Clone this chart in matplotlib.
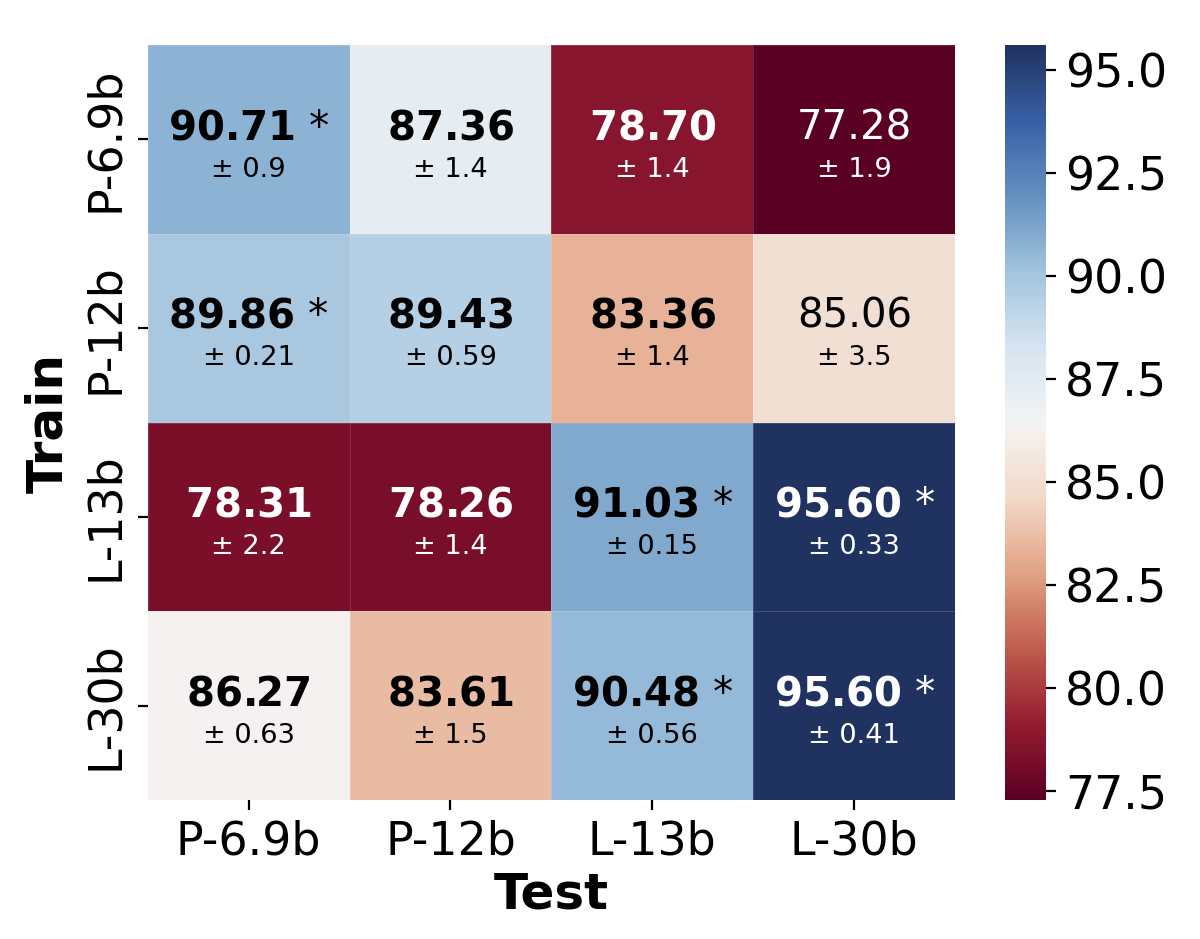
import matplotlib
matplotlib.use("Agg")
import matplotlib.pyplot as plt
from matplotlib.colors import LinearSegmentedColormap
import numpy as np

train_labels = ["P-6.9b", "P-12b", "L-13b", "L-30b"]
test_labels = ["P-6.9b", "P-12b", "L-13b", "L-30b"]

means = np.array([
    [90.71, 87.36, 78.70, 77.28],
    [89.86, 89.43, 83.36, 85.06],
    [78.31, 78.26, 91.03, 95.60],
    [86.27, 83.61, 90.48, 95.60],
])
stds = [
    ["0.9", "1.4", "1.4", "1.9"],
    ["0.21", "0.59", "1.4", "3.5"],
    ["2.2", "1.4", "0.15", "0.33"],
    ["0.63", "1.5", "0.56", "0.41"],
]
bold = [
    [1, 1, 1, 0],
    [1, 1, 1, 0],
    [1, 1, 1, 1],
    [1, 1, 1, 1],
]
star = [
    [1, 0, 0, 0],
    [1, 0, 0, 0],
    [0, 0, 1, 1],
    [0, 0, 1, 1],
]

plt.rcParams["mathtext.fontset"] = "dejavusans"

# muted RdBu, a bit bluer at the top like the original figure
nodes = [(90, 0, 35), (150, 28, 48), (192, 92, 78), (226, 162, 132),
         (242, 217, 201), (244, 244, 244), (214, 228, 240), (162, 196, 222),
         (100, 145, 192), (56, 96, 166), (31, 50, 96)]
cmap = LinearSegmentedColormap.from_list(
    "muted_rdbu", [tuple(c / 255 for c in n) for n in nodes])

fig = plt.figure(figsize=(6, 4.695), dpi=200)
ax = fig.add_axes([0.123, 0.148, 0.673, 0.804])
cax = fig.add_axes([0.8375, 0.148, 0.034, 0.804])

vmin, vmax = means.min(), means.max()
mesh = ax.pcolormesh(means, cmap=cmap, vmin=vmin, vmax=vmax,
                     edgecolors=(1, 1, 1, 0.15), linewidth=0.3)
ax.set_xlim(0, 4)
ax.set_ylim(4, 0)

norm = mesh.norm
for i in range(4):
    for j in range(4):
        v = means[i, j]
        c = "white" if (norm(v) < 0.15 or norm(v) > 0.85) else "black"
        num = f"{v:.2f}"
        s = (r"$\mathbf{" + num + "}$") if bold[i][j] else num
        if star[i][j]:
            s += " *"
        ax.text(j + 0.5, i + 0.44, s, ha="center", va="center",
                fontsize=14.5, color=c)
        ax.text(j + 0.5, i + 0.66, "\u00b1 " + stds[i][j], ha="center",
                va="center", fontsize=9.8, color=c)

ax.set_xticks(np.arange(4) + 0.5)
ax.set_xticklabels(test_labels, fontsize=16.5)
ax.set_yticks(np.arange(4) + 0.5)
ax.set_yticklabels(train_labels, fontsize=16.5, rotation=90, va="center")
for s in ax.spines.values():
    s.set_visible(False)
ax.set_xlabel("Test", fontsize=18, fontweight="bold", labelpad=2)
ax.set_ylabel("Train", fontsize=18, fontweight="bold", labelpad=4)

cb = fig.colorbar(mesh, cax=cax)
cb.set_ticks(np.arange(77.5, 95.1, 2.5))
cb.ax.tick_params(labelsize=16.5)
cb.outline.set_visible(False)

fig.savefig("out.png", dpi=200)
